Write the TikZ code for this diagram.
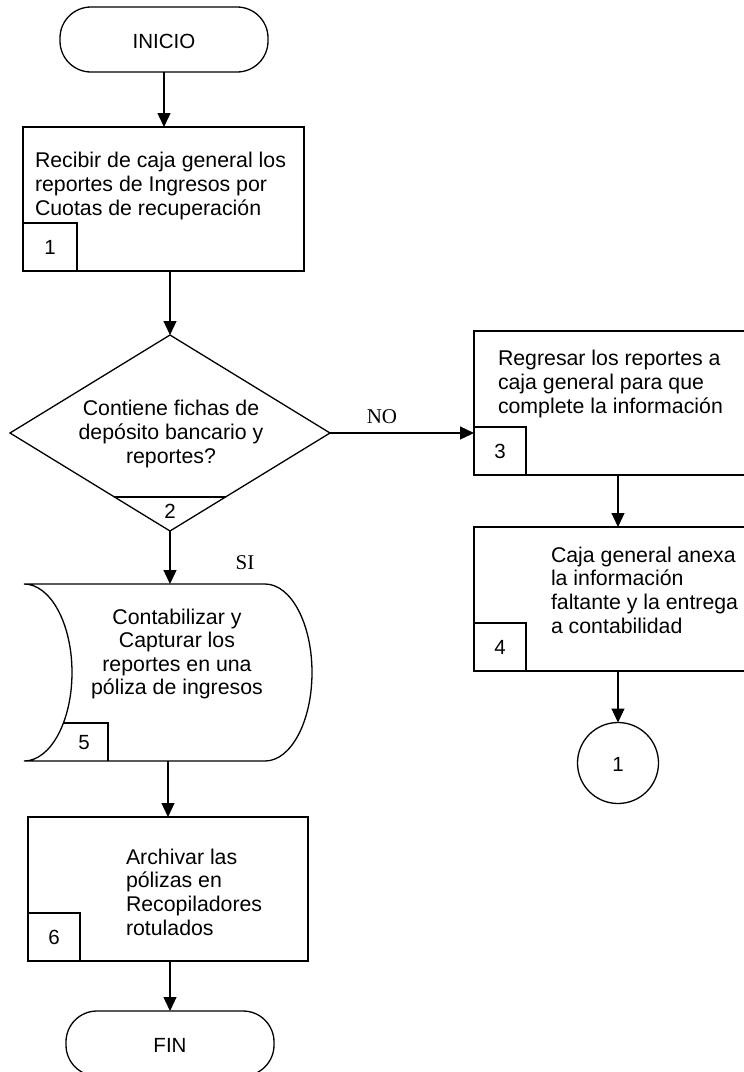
\documentclass[tikz,border=0pt]{standalone}
\usepackage{fontspec}
\setmainfont{Liberation Sans}
\newfontfamily\seriffont{Liberation Serif}
\usetikzlibrary{arrows.meta,shapes.geometric,calc}
\begin{document}
\begin{tikzpicture}[x=1pt,y=-1pt,
  every node/.style={inner sep=0pt, outer sep=0pt},
  ln/.style={line width=1.3pt},
  arr/.style={line width=1.3pt,-{Triangle[length=14pt,width=13pt]}},
  box/.style={draw,line width=1.3pt,rectangle},
  term/.style={draw,line width=1.3pt,rectangle,rounded corners=31pt,minimum width=208pt,minimum height=65pt},
  txt/.style={font=\fontsize{21.3}{23.6}\selectfont,align=left},
  ctxt/.style={font=\fontsize{21.3}{23.6}\selectfont,align=center},
  num/.style={font=\fontsize{20.5}{24}\selectfont},
  lbl/.style={font=\seriffont\fontsize{21}{24}\selectfont}
]
\useasboundingbox (0,0) rectangle (744,1072);
% terminals
\node[term] (inicio) at (164,39.5) {};
\node[num] (tinicio) at (164,41) {INICIO};
\node[term] (fin) at (170,1043.5) {};
\node[num] (tfin) at (170,1045) {FIN};
% box 1
\node[box,minimum width=281pt,minimum height=144pt] (b1) at (163.5,199) {};
\node[txt,anchor=west] (t1) at (35,186) {Recibir de caja general los\\reportes de Ingresos por\\Cuotas de recuperaci\'on};
\node[box,minimum width=54pt,minimum height=48pt] (n1) at (50,247) {};
\node[num] (n1t) at (50,247) {1};
% decision
\node[draw,line width=1.3pt,diamond,minimum width=320pt,minimum height=196pt] (dia) at (170,433) {};
\node[ctxt] (td) at (171,434) {Contiene fichas de\\dep\'osito bancario y\\reportes?};
\draw[ln] ($(dia.center)+(-56,64)$) -- ($(dia.center)+(56,64)$);
\node[num] (n2) at (170,511) {2};
% box 3
\node[box,minimum width=300pt,minimum height=144pt] (b3) at (624,403) {};
\node[txt,anchor=west] (t3) at (498,384) {Regresar los reportes a\\caja general para que\\complete la informaci\'on};
\node[box,minimum width=52pt,minimum height=48pt] (n3) at (500,451) {};
\node[num] (n3t) at (500,451) {3};
% box 4
\node[box,minimum width=300pt,minimum height=144pt] (b4) at (624,599) {};
\node[txt,anchor=west] (t4) at (551,590) {Caja general anexa\\la informaci\'on\\faltante y la entrega\\a contabilidad};
\node[box,minimum width=52pt,minimum height=48pt] (n4) at (500,647) {};
\node[num] (n4t) at (500,647) {4};
% connector circle
\node[draw,line width=1.3pt,circle,minimum size=81pt] (c1) at (618,763) {};
\node[num] (c1t) at (618,764) {1};
% stored data 5
\node[minimum width=288pt,minimum height=177pt] (s5) at (168,672.5) {};
\draw[ln] (24,584) -- (265,584)
  .. controls (291,584) and (312,623.6) .. (312,672.5)
  .. controls (312,721.4) and (291,761) .. (265,761)
  -- (24,761)
  .. controls (50.5,761) and (72,721.4) .. (72,672.5)
  .. controls (72,623.6) and (50.5,584) .. cycle;
\node[ctxt] (t5) at (177,654) {Contabilizar y\\Capturar los\\reportes en una\\p\'oliza de ingresos};
\draw[ln] (63,723) -- (108,723) -- (108,761);
\node[num] (n5t) at (84,743) {5};
% box 6
\node[box,minimum width=280pt,minimum height=144pt] (b6) at (168,889) {};
\node[txt,anchor=west] (t6) at (126,892) {Archivar las\\p\'olizas en\\Recopiladores\\rotulados};
\node[box,minimum width=52pt,minimum height=48pt] (n6) at (54,937) {};
\node[num] (n6t) at (54,937) {6};
% labels
\node[lbl] (no) at (382,417) {NO};
\node[lbl] (si) at (245,563) {SI};
% connectors
\draw[arr] (inicio.south) -- (inicio.south |- b1.north);
\draw[arr] (b1.south -| dia.north) -- (dia.north);
\draw[arr] (dia.east) -- (dia.east -| b3.west);
\draw[arr] (b3.south -| c1.north) -- (b4.north -| c1.north);
\draw[arr] (b4.south -| c1.north) -- (c1.north);
\draw[arr] (dia.south) -- (dia.south |- s5.north);
\draw[arr] (s5.south -| b6.north) -- (b6.north);
\draw[arr] (b6.south -| fin.north) -- (fin.north);
\end{tikzpicture}
\end{document}
